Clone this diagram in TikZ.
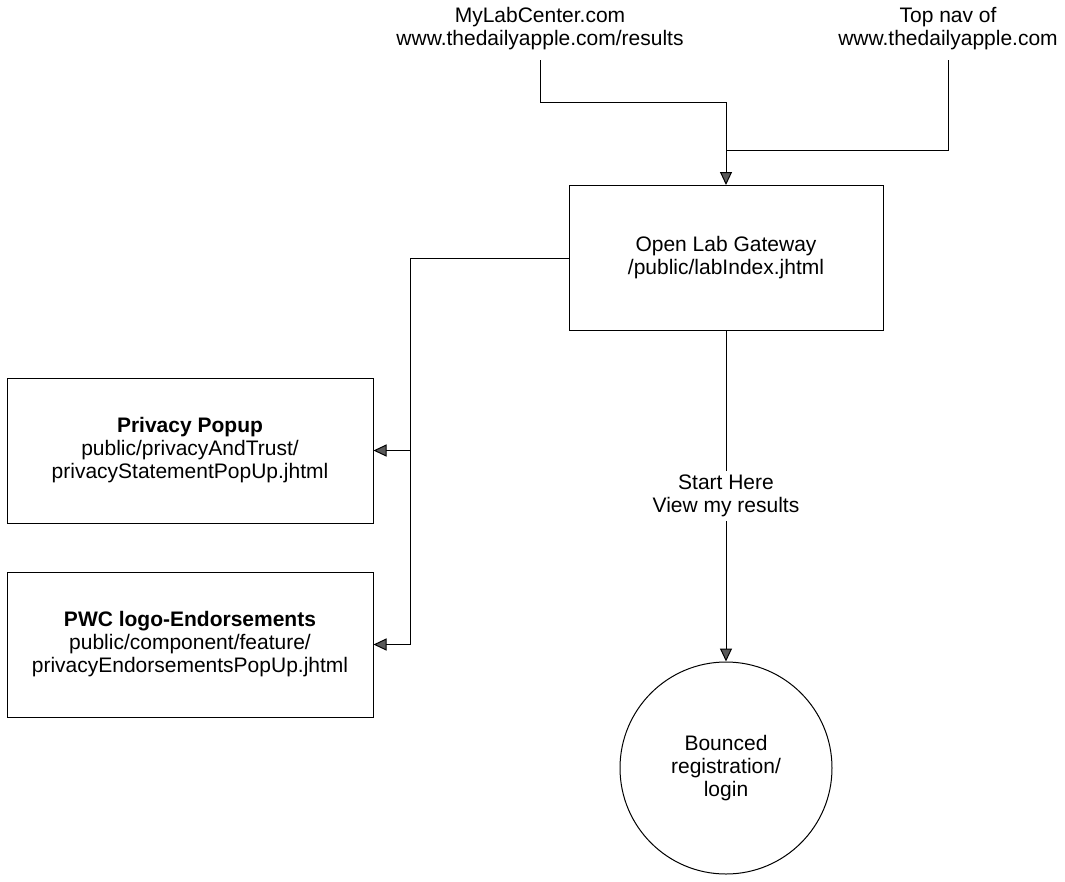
\documentclass[tikz,border=0pt]{standalone}
\usepackage{fontspec}
\setmainfont{Liberation Sans}
\usetikzlibrary{arrows.meta}

\tikzset{
  lbl/.style={align=center,font=\fontsize{21}{23}\selectfont,inner sep=0pt},
  pagebox/.style={lbl,draw,line width=1pt,minimum width=#1,minimum height=145pt},
  endcircle/.style={lbl,draw,circle,line width=1pt,minimum size=212pt},
  link/.style={line width=1pt},
  tip/.style={-{Triangle[length=13pt,width=12pt,fill=black!65]}}
}

\begin{document}
\begin{tikzpicture}[x=1pt,y=-1pt]
        \useasboundingbox (0,0) rectangle (1065,881);

        % sources at the top
        \node[lbl] (mylab) at (540,29) {MyLabCenter.com\\www.thedailyapple.com/results};
        \node[lbl] (topnav) at (948,29) {Top nav of\\www.thedailyapple.com};

        % pages
        \node[pagebox=314pt] (gateway) at (726,258) {Open Lab Gateway\\/public/labIndex.jhtml};
        \node[pagebox=366pt] (privacy) at (190,450.5) {\textbf{Privacy Popup}\\public/privacyAndTrust/\\privacyStatementPopUp.jhtml};
        \node[pagebox=366pt] (pwc) at (190,644.5) {\textbf{PWC logo-Endorsements}\\public/component/feature/\\privacyEndorsementsPopUp.jhtml};
        \node[endcircle] (bounced) at (726,768) {Bounced\\registration/\\login};

        \coordinate (join1) at (726,102);
        \coordinate (join2) at (726,150);
        \coordinate (bus) at (410,644.5);

        \draw[link] ([yshift=-10pt]mylab.south) |- (join1);
        \draw[link] ([yshift=-10pt]topnav.south) |- (join2);
        \draw[link,tip] (join1) -- (gateway.north);

        \draw[link] (gateway.west) -| (bus);
        \draw[link,tip] (privacy.east -| bus) -- (privacy.east);
        \draw[link,tip] (bus) -- (pwc.east);

        \draw[link,tip] (gateway.south) -- node[lbl,fill=white,inner sep=4pt]{Start Here\\View my results} (bounced.north);
    \end{tikzpicture}
\end{document}
